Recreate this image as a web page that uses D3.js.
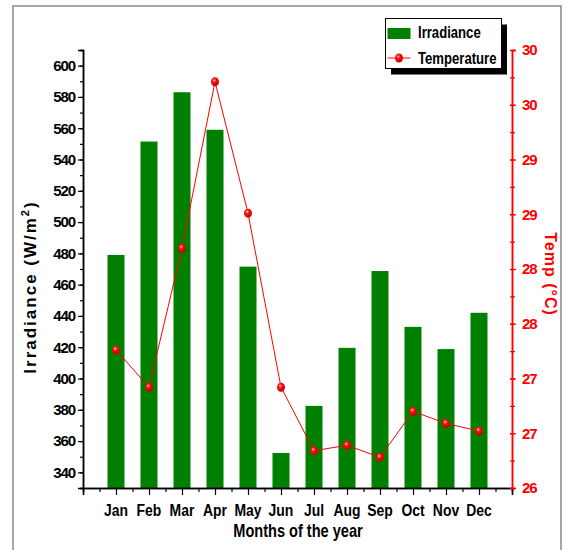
<!DOCTYPE html>
<html>
<head>
<meta charset="utf-8">
<script src="https://cdn.jsdelivr.net/npm/d3@7"></script>
<style>
  body { margin: 0; background: #fff; }
  svg { display: block; font-family: "Liberation Sans", Arial, sans-serif; }
</style>
</head>
<body>
<svg id="chart" width="564" height="550"></svg>
<script>
// data
var months = ["Jan", "Feb", "Mar", "Apr", "May", "Jun", "Jul", "Aug", "Sep", "Oct", "Nov", "Dec"];
var irradiance = [479, 551.5, 583, 559, 471.5, 352.4, 382.5, 419.6, 468.7, 433, 418.8, 442];
var temperature = [27.26, 26.92, 28.19, 29.71, 28.51, 26.92, 26.34, 26.39, 26.28, 26.70, 26.59, 26.52];
var leftTicks = d3.range(340, 601, 20);
var rightTicks = d3.range(26, 30.01, 0.5);

var svg = d3.select("#chart");

var x = d3.scaleLinear().domain([0, 13]).range([83, 512]);
var yL = d3.scaleLinear().domain([330, 610]).range([488, 50]);
var yR = d3.scaleLinear().domain([26, 30]).range([488, 50]);

// outer frame
svg.append("rect")
    .attr("x", 13).attr("y", 6).attr("width", 548).attr("height", 570)
    .attr("fill", "none").attr("stroke", "#8a8a8a").attr("stroke-width", 1.5);

// marker gradient
var grad = svg.append("defs").append("radialGradient")
    .attr("id", "ball").attr("cx", "40%").attr("cy", "35%").attr("r", "65%");
grad.append("stop").attr("offset", "0%").attr("stop-color", "#ffd0d0");
grad.append("stop").attr("offset", "35%").attr("stop-color", "#ff1010");
grad.append("stop").attr("offset", "100%").attr("stop-color", "#c00000");

// bars
svg.append("g").selectAll("rect")
    .data(irradiance)
    .enter().append("rect")
    .attr("x", function(d, i) { return x(i + 1) - 8.5; })
    .attr("y", function(d) { return yL(d); })
    .attr("width", 17)
    .attr("height", function(d) { return yL(330) - yL(d); })
    .attr("fill", "#008000");

// left axis
svg.append("g").attr("transform", "translate(83,0)")
    .call(d3.axisLeft(yL).tickValues(d3.range(330, 611, 10)).tickSize(3).tickFormat(""));
var gl = svg.append("g").attr("class", "axL").attr("transform", "translate(83,0)")
    .call(d3.axisLeft(yL).tickValues(leftTicks).tickSize(5).tickPadding(3));
gl.selectAll("text").style("font-size", "15px").style("font-weight", "bold").style("letter-spacing", "-1.1px").attr("fill", "#000");

// bottom axis
svg.append("g").attr("transform", "translate(0,488)")
    .call(d3.axisBottom(x).tickValues(d3.range(0.5, 13, 1)).tickSize(4).tickFormat(""));
svg.append("g").attr("transform", "translate(0,488)")
    .call(d3.axisBottom(x).tickValues(d3.range(0, 14)).tickSize(7).tickFormat(""));

// right axis
var red = "#ff0000";
svg.append("g").attr("class", "axR").attr("transform", "translate(512,0)")
    .call(d3.axisRight(yR).tickValues(d3.range(26, 30.01, 0.25)).tickSize(3).tickFormat(""));
var gr = svg.append("g").attr("class", "axR").attr("transform", "translate(512,0)")
    .call(d3.axisRight(yR).tickValues(rightTicks).tickSize(4).tickPadding(6).tickFormat(d3.format(".0f")));
gr.selectAll("text").style("font-size", "15px").style("font-weight", "bold").style("letter-spacing", "-1.1px").attr("fill", red);
svg.selectAll(".axR path, .axR line").attr("stroke", red);
svg.selectAll(".axR line").attr("x1", -2);

svg.selectAll(".domain").attr("stroke-width", 1.5);
svg.selectAll(".tick line").attr("stroke-width", 1.2);

// month labels
svg.append("g").selectAll("text")
    .data(months)
    .enter().append("text")
    .attr("transform", function(d, i) { return "translate(" + x(i + 1) + ",516) scale(0.82,1)"; })
    .attr("text-anchor", "middle")
    .style("font-size", "17px").style("font-weight", "bold")
    .text(function(d) { return d; });

// temperature line + markers
var line = d3.line()
    .x(function(d, i) { return x(i + 1); })
    .y(function(d) { return yR(d); });
svg.append("path")
    .datum(temperature)
    .attr("d", line)
    .attr("fill", "none").attr("stroke", red).attr("stroke-width", 1);
svg.append("g").selectAll("ellipse")
    .data(temperature)
    .enter().append("ellipse")
    .attr("cx", function(d, i) { return x(i + 1); })
    .attr("cy", function(d) { return yR(d); })
    .attr("rx", 4).attr("ry", 4.5)
    .attr("fill", "url(#ball)");

// titles
svg.append("text")
    .attr("transform", "translate(298,537) scale(0.81,1)")
    .attr("text-anchor", "middle")
    .style("font-size", "18px").style("font-weight", "bold")
    .text("Months of the year");

var yt = svg.append("text")
    .attr("transform", "translate(36,287) rotate(-90)")
    .attr("text-anchor", "middle")
    .style("font-size", "17px").style("font-weight", "bold").style("letter-spacing", "2px")
    .text("Irradiance (W/m");
yt.append("tspan").attr("dy", -7).style("font-size", "11px").text("2");
yt.append("tspan").attr("dy", 7).text(")");

svg.append("text")
    .attr("transform", "translate(545,274) rotate(90)")
    .attr("text-anchor", "middle")
    .attr("fill", red)
    .style("font-size", "16px").style("font-weight", "bold").style("letter-spacing", "1px")
    .text("Temp (°C)");

// legend
var lg = svg.append("g");
lg.append("rect").attr("x", 391).attr("y", 24.5).attr("width", 116).attr("height", 50).attr("fill", "#000");
lg.append("rect").attr("x", 385.5).attr("y", 18.5).attr("width", 116).attr("height", 50)
    .attr("fill", "#fff").attr("stroke", "#000").attr("stroke-width", 1);
lg.append("rect").attr("x", 387.5).attr("y", 28).attr("width", 23).attr("height", 11).attr("fill", "#008000");
lg.append("line").attr("x1", 387.5).attr("x2", 410.5).attr("y1", 58).attr("y2", 58)
    .attr("stroke", red).attr("stroke-width", 1);
lg.append("ellipse").attr("cx", 399).attr("cy", 58).attr("rx", 4).attr("ry", 4.5).attr("fill", "url(#ball)");
lg.append("text").attr("transform", "translate(418,37.5) scale(0.82,1)")
    .style("font-size", "16px").style("font-weight", "bold").text("Irradiance");
lg.append("text").attr("transform", "translate(418,63.5) scale(0.82,1)")
    .style("font-size", "16px").style("font-weight", "bold").text("Temperature");
</script>
</body>
</html>
